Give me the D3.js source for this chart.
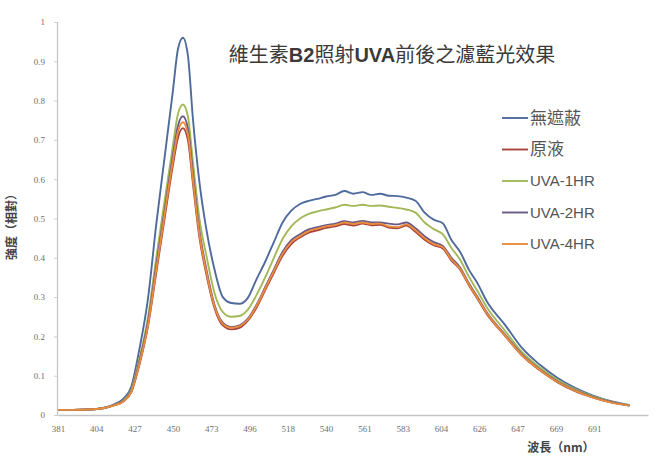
<!DOCTYPE html>
<html>
<head>
<meta charset="utf-8">
<script src="https://cdn.jsdelivr.net/npm/d3@7"></script>
<style>
  body { margin: 0; background: #fff; }
  svg { display: block; }
</style>
</head>
<body>
<svg id="chart"></svg>
<script>
// wavelength samples (nm)
const wavelengths = [381, 390, 400, 410, 415, 420, 425, 430, 435, 440, 445, 450, 453, 456, 459, 462, 466, 470,
	475, 480, 485, 490, 495, 500, 505, 510, 515, 520, 525, 530, 535, 540, 545, 550, 555, 560, 565, 570, 575, 580,
	585, 590, 595, 600, 605, 610, 615, 620, 625, 630, 640, 650, 660, 670, 680, 690, 700, 710];

const xTickLabels = [381, 404, 427, 450, 473, 496, 518, 540, 561, 583, 604, 626, 647, 669, 691];
const yTicks = [0, 0.1, 0.2, 0.3, 0.4, 0.5, 0.6, 0.7, 0.8, 0.9, 1];

const seriesNames = ["無遮蔽", "原液", "UVA-1HR", "UVA-2HR", "UVA-4HR"];
const seriesColors = ["#4f6a9c", "#a8423d", "#a3b858", "#6a5886", "#e88c3c"];

const noShield = [.013, .013, .014, .02, .028, .04, .072, .17, .295, .485, .655, .825, .93, .96, .915, .755, .59, .475,
	.37, .30, .285, .283, .298, .345, .39, .44, .49, .52, .537, .545, .55, .556, .56, .57, .563, .567, .56, .563, .558, .557,
	.553, .545, .515, .497, .488, .445, .415, .37, .335, .29, .23, .168, .127, .094, .069, .05, .035, .025];

const stock = [.013, .013, .014, .019, .025, .034, .058, .13, .225, .362, .50, .635, .705, .73, .70, .59, .45, .36,
	.272, .228, .218, .222, .24, .273, .318, .362, .405, .435, .452, .464, .47, .476, .48, .486, .482, .487, .483, .484, .477, .475,
	.482, .466, .446, .432, .424, .393, .37, .33, .295, .258, .202, .149, .113, .083, .061, .045, .032, .024];

const uva1 = [.013, .013, .014, .019, .026, .036, .064, .145, .248, .40, .545, .685, .765, .79, .76, .645, .497, .408,
	.31, .262, .25, .252, .268, .305, .35, .40, .448, .48, .50, .512, .518, .523, .528, .535, .532, .535, .532, .533, .53, .527,
	.523, .515, .49, .473, .46, .425, .395, .352, .315, .275, .215, .158, .12, .089, .066, .048, .034, .025];

const uva2 = [.013, .013, .014, .019, .026, .035, .061, .138, .236, .38, .52, .66, .735, .76, .73, .615, .467, .373,
	.28, .235, .224, .228, .245, .28, .325, .37, .415, .445, .46, .472, .478, .483, .487, .493, .49, .494, .49, .49, .487, .485,
	.49, .475, .455, .44, .43, .40, .375, .335, .30, .262, .205, .152, .115, .085, .063, .046, .033, .024];

const uva4 = [.013, .013, .014, .019, .025, .034, .059, .133, .228, .37, .51, .647, .72, .745, .715, .60, .457, .366,
	.276, .232, .222, .226, .243, .277, .322, .366, .41, .44, .455, .468, .474, .48, .483, .49, .486, .49, .486, .487, .48, .478,
	.485, .47, .45, .435, .427, .396, .372, .332, .297, .26, .203, .15, .114, .084, .062, .045, .032, .024];

const seriesValues = [noShield, stock, uva1, uva2, uva4];

const width = 663, height = 459;
const margin = {left: 57, top: 22, bottom: 44};
const tickStep = 38.3;

const svg = d3.select("#chart")
	.attr("width", width)
	.attr("height", height);

// category-like axis: labels evenly spaced, data placed between them
const xScale = d3.scaleLinear()
	.domain(xTickLabels.concat([720]))
	.range(xTickLabels.map((d, i) => margin.left + 1 + i * tickStep).concat([648]));

const yScale = d3.scaleLinear()
	.domain([0, 1])
	.range([height - margin.bottom, margin.top]);

// axes
svg.append("g")
	.attr("transform", `translate(0,${height - margin.bottom})`)
	.call(d3.axisBottom(xScale).tickValues(xTickLabels).tickSize(0).tickPadding(11).tickFormat(d => d))
	.call(g => g.select(".domain").attr("stroke", "#c4c4c4").attr("stroke-width", 1.5))
	.call(g => g.selectAll("text")
		.attr("font-family", "Liberation Serif, serif")
		.attr("font-size", 9)
		.attr("fill", "#6f6f6f"));

svg.append("g")
	.attr("transform", `translate(${margin.left},0)`)
	.call(d3.axisLeft(yScale).tickValues(yTicks).tickSize(3).tickPadding(9).tickFormat(d => d))
	.call(g => g.select(".domain").attr("stroke", "#c4c4c4").attr("stroke-width", 1.2))
	.call(g => g.selectAll(".tick line").attr("stroke", "#d0d0d0"))
	.call(g => g.selectAll("text")
		.attr("font-family", "Liberation Serif, serif")
		.attr("font-size", 9)
		.attr("fill", "#6f6f6f"));

// lines
const line = d3.line()
	.x((d, i) => xScale(wavelengths[i]))
	.y(d => yScale(d))
	.curve(d3.curveMonotoneX);

svg.selectAll(".series")
	.data(seriesValues)
	.join("path")
	.attr("class", "series")
	.attr("d", d => line(d))
	.attr("fill", "none")
	.attr("stroke", (d, i) => seriesColors[i])
	.attr("stroke-width", 1.9)
	.attr("stroke-linejoin", "round");

// title
const title = svg.append("text")
	.attr("x", 392)
	.attr("y", 62)
	.attr("text-anchor", "middle")
	.attr("font-family", "Noto Sans CJK TC, sans-serif")
	.attr("font-size", 20)
	.attr("fill", "#3a3a3a");
title.append("tspan").text("維生素");
title.append("tspan").attr("font-weight", "bold").attr("font-family", "Liberation Sans, sans-serif").text("B2");
title.append("tspan").text("照射");
title.append("tspan").attr("font-weight", "bold").attr("font-family", "Liberation Sans, sans-serif").text("UVA");
title.append("tspan").text("前後之濾藍光效果");

// legend
const legend = svg.selectAll(".legend")
	.data(seriesNames)
	.join("g")
	.attr("class", "legend")
	.attr("transform", (d, i) => `translate(502,${118 + i * 31.5})`);

legend.append("line")
	.attr("x1", 0).attr("x2", 26)
	.attr("stroke", (d, i) => seriesColors[i])
	.attr("stroke-width", 1.9);

legend.append("text")
	.attr("x", 28)
	.attr("dy", "0.35em")
	.attr("font-family", (d, i) => i < 2 ? "Noto Sans CJK TC, sans-serif" : "Liberation Sans, sans-serif")
	.attr("font-size", (d, i) => i < 2 ? 17 : 15)
	.attr("fill", "#555")
	.text(d => d);

// axis titles
svg.append("text")
	.attr("transform", "translate(16,224) rotate(-90)")
	.attr("text-anchor", "middle")
	.attr("font-family", "Noto Sans CJK TC, sans-serif")
	.attr("font-size", 12)
	.attr("font-weight", "bold")
	.attr("fill", "#444")
	.text("強度（相對）");

svg.append("text")
	.attr("x", 561)
	.attr("y", 452)
	.attr("text-anchor", "middle")
	.attr("font-family", "Noto Sans CJK TC, sans-serif")
	.attr("font-size", 12)
	.attr("font-weight", "bold")
	.attr("fill", "#444")
	.text("波長（nm）");
</script>
</body>
</html>
